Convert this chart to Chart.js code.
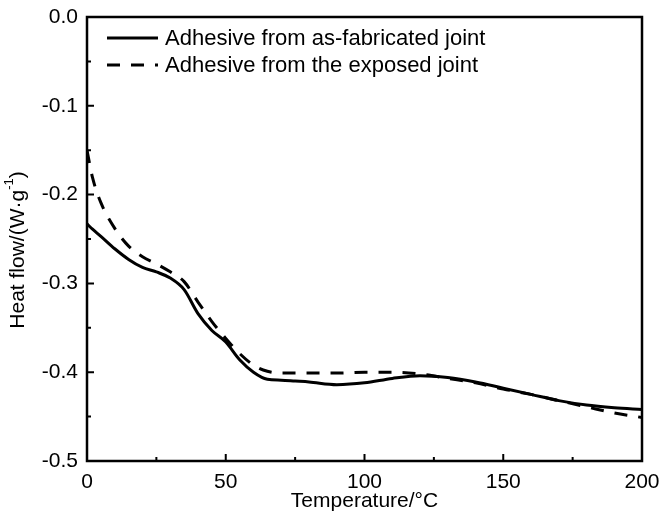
<!DOCTYPE html>
<html>
<head>
<meta charset="utf-8">
<script src="https://cdn.jsdelivr.net/npm/chart.js@4"></script>
<style>
  body { margin: 0; background: #fff; }
  #wrap { width: 662px; height: 517px; }
</style>
</head>
<body>
<div id="wrap"><canvas id="dsc" width="662" height="517"></canvas></div>
<script>
// temperatures (°C) shared by both curves
const temperature = [0, 2, 5, 10, 15, 20, 25, 30, 35, 40, 45, 50, 55, 60, 65, 70, 75, 80, 90, 100, 110, 120, 130, 140, 150, 160, 170, 180, 190, 200];
// heat flow W/g
const asFabricated = [-0.233, -0.239, -0.247, -0.261, -0.273, -0.282, -0.287, -0.294, -0.307, -0.334, -0.353, -0.366, -0.386, -0.400, -0.408, -0.409, -0.410, -0.411, -0.414, -0.412, -0.407, -0.404, -0.406, -0.411, -0.418, -0.425, -0.432, -0.437, -0.440, -0.442];
const exposed = [-0.150, -0.181, -0.209, -0.238, -0.258, -0.270, -0.278, -0.287, -0.298, -0.321, -0.343, -0.362, -0.379, -0.392, -0.399, -0.401, -0.401, -0.401, -0.401, -0.400, -0.400, -0.402, -0.407, -0.412, -0.419, -0.425, -0.432, -0.439, -0.446, -0.451];
const seriesNames = ['Adhesive from as-fabricated joint', 'Adhesive from the exposed joint'];
const xTicks = [0, 50, 100, 150, 200];
const yTicks = [0, -0.1, -0.2, -0.3, -0.4, -0.5];

Chart.defaults.font.family = '"Liberation Sans", Arial, sans-serif';
Chart.defaults.color = '#000';

function pts(vals) {
    return temperature.map((t, i) => ({x: t, y: vals[i]}))
}

// frame + inward ticks, legend and axis titles
const decor = {
    id: 'decor',
    afterDraw(chart) {
        const ctx = chart.ctx
        const a = chart.chartArea
        const xs = chart.scales.x, ys = chart.scales.y
        ctx.save()
        ctx.strokeStyle = '#000'
        ctx.lineWidth = 2.5
        ctx.strokeRect(a.left, a.top, a.right - a.left, a.bottom - a.top)

        ctx.lineWidth = 2
        ctx.beginPath()
        for (let v = 25; v < 200; v += 25) {
            const px = xs.getPixelForValue(v)
            const len = v % 50 === 0 ? 7 : 4
            ctx.moveTo(px, a.bottom); ctx.lineTo(px, a.bottom - len)
        }
        for (let k = 1; k < 10; k++) {
            const py = ys.getPixelForValue(-k * 0.05)
            const len = k % 2 === 0 ? 7 : 4
            ctx.moveTo(a.left, py); ctx.lineTo(a.left + len, py)
        }
        ctx.stroke()

        // legend
        ctx.font = '22px "Liberation Sans", Arial, sans-serif'
        ctx.textBaseline = 'middle'
        ctx.fillStyle = '#000'
        chart.data.datasets.forEach((ds, i) => {
            const y = 38 + i * 27
            ctx.beginPath()
            ctx.lineWidth = ds.borderWidth
            ctx.setLineDash(ds.borderDash || [])
            ctx.moveTo(107, y); ctx.lineTo(158, y)
            ctx.stroke()
            ctx.setLineDash([])
            ctx.fillText(ds.label, 165, y + 1)
        })

        // x title
        ctx.font = '21px "Liberation Sans", Arial, sans-serif'
        ctx.textAlign = 'center'
        ctx.fillText('Temperature/°C', (a.left + a.right) / 2, 501)

        // y title with superscript
        ctx.translate(18, 250)
        ctx.rotate(-Math.PI / 2)
        const main = 'Heat flow/(W·g', sup = '-1', tail = ')'
        const f1 = '21px "Liberation Sans", Arial, sans-serif', f2 = '13px "Liberation Sans", Arial, sans-serif'
        ctx.font = f1
        const w1 = ctx.measureText(main).width, w3 = ctx.measureText(tail).width
        ctx.font = f2
        const w2 = ctx.measureText(sup).width
        let x = -(w1 + w2 + w3) / 2
        ctx.textAlign = 'left'
        ctx.font = f1; ctx.fillText(main, x, 0); x += w1
        ctx.font = f2; ctx.fillText(sup, x, -9); x += w2
        ctx.font = f1; ctx.fillText(tail, x, 0)
        ctx.restore()
    }
}

const chart = new Chart(document.getElementById('dsc'), {
    type: 'line',
    data: {
        datasets: [
            {label: seriesNames[0], data: pts(asFabricated), borderColor: '#000', borderWidth: 3, pointRadius: 0, cubicInterpolationMode: 'monotone'},
            {label: seriesNames[1], data: pts(exposed), borderColor: '#000', borderWidth: 3, borderDash: [13, 11], pointRadius: 0, cubicInterpolationMode: 'monotone'}
        ]
    },
    options: {
        responsive: false,
        animation: false,
        layout: {padding: {left: 0, top: 17, right: 20, bottom: 0}},
        plugins: {legend: {display: false}, tooltip: {enabled: false}},
        scales: {
            x: {
                type: 'linear', min: 0, max: 200,
                afterFit: s => { s.height = 56; s.paddingLeft = 0; s.paddingRight = 0 },
                afterBuildTicks: s => { s.ticks = xTicks.map(v => ({value: v})) },
                grid: {display: false, drawTicks: false},
                border: {display: false},
                ticks: {font: {size: 21}, padding: 9, maxRotation: 0, autoSkip: false}
            },
            y: {
                min: -0.5, max: 0,
                afterFit: s => { s.width = 87; s.paddingTop = 0; s.paddingBottom = 0 },
                afterBuildTicks: s => { s.ticks = yTicks.map(v => ({value: v})) },
                grid: {display: false, drawTicks: false},
                border: {display: false},
                ticks: {font: {size: 21}, padding: 9, callback: v => v.toFixed(1)}
            }
        }
    },
    plugins: [decor]
})
</script>
</body>
</html>
